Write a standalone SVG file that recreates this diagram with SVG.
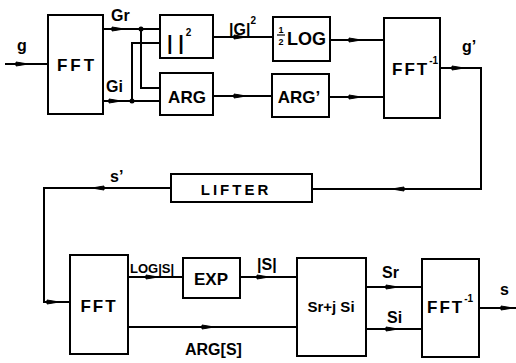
<svg xmlns="http://www.w3.org/2000/svg" width="516" height="363" viewBox="0 0 516 363">
<style>
.box{fill:#fff;stroke:#000;stroke-width:2}
.ln{fill:none;stroke:#000;stroke-width:2}
text{font-family:"Liberation Sans",Arial,sans-serif;font-weight:bold;fill:#000}
.big{font-size:17px;letter-spacing:3px}
.mid{font-size:16px}
.sm{font-size:13px}
.sup{font-size:10px}
</style>
<defs>
<path id="ar" d="M-6,-2 L6,0 L-6,2 Z" fill="#000" stroke="#000" stroke-width="1"/>
</defs>
<g id="connectors">
<path class="ln" d="M5,64 H48"/>
<path class="ln" d="M103,29 H160"/>
<path class="ln" d="M103,101 H160"/>
<path class="ln" d="M141,29 V88 H160"/>
<path class="ln" d="M132,101 V43 H160"/>
<path class="ln" d="M213,37 H273"/>
<path class="ln" d="M213,96 H272"/>
<path class="ln" d="M330,40 H384"/>
<path class="ln" d="M329,97 H384"/>
<path class="ln" d="M440,68 H481 V189 H312"/>
<path class="ln" d="M171,188 H44 V302 H70"/>
<path class="ln" d="M128,277 H183"/>
<path class="ln" d="M240,277 H297"/>
<path class="ln" d="M128,327 H297"/>
<path class="ln" d="M366,287 H422"/>
<path class="ln" d="M366,329 H422"/>
<path class="ln" d="M479,308 H516"/>
<circle cx="141" cy="29" r="2.5"/>
<circle cx="132" cy="101" r="2.5"/>
<use href="#ar" transform="translate(22,64)"/>
<use href="#ar" transform="translate(118,29)"/>
<use href="#ar" transform="translate(115,101)"/>
<use href="#ar" transform="translate(240,37)"/>
<use href="#ar" transform="translate(240,96)"/>
<use href="#ar" transform="translate(355,40)"/>
<use href="#ar" transform="translate(355,97)"/>
<use href="#ar" transform="translate(458,68)"/>
<use href="#ar" transform="translate(398,189) rotate(180)"/>
<use href="#ar" transform="translate(98,188) rotate(180)"/>
<use href="#ar" transform="translate(53,302)"/>
<use href="#ar" transform="translate(152,277)"/>
<use href="#ar" transform="translate(263,277)"/>
<use href="#ar" transform="translate(208,327)"/>
<use href="#ar" transform="translate(392,287)"/>
<use href="#ar" transform="translate(392,329)"/>
<use href="#ar" transform="translate(507,308)"/>
<text class="mid" x="22" y="51" text-anchor="middle">g</text>
<text class="mid" x="111" y="21">Gr</text>
<text class="mid" x="106" y="92">Gi</text>
<text class="mid" x="229" y="35">|G|<tspan class="sup" dy="-11">2</tspan></text>
<text class="mid" x="462" y="52">g’</text>
<text class="mid" x="110" y="182">s’</text>
<text class="sm" x="130" y="273">LOG|S|</text>
<text class="mid" x="257" y="270">|S|</text>
<text class="mid" x="185" y="355">ARG[S]</text>
<text class="mid" x="382" y="278">Sr</text>
<text class="mid" x="387" y="323">Si</text>
<text class="mid" x="500" y="295">s</text>
</g>
<g id="fft1">
<rect class="box" x="48" y="15" width="55" height="99"/>
<text class="big" x="77" y="71" text-anchor="middle">FFT</text>
</g>
<g id="abs2">
<rect class="box" x="160" y="15" width="53" height="43"/>
<text x="167" y="50" style="font-size:20px">| |<tspan class="sup" dy="-14" dx="2">2</tspan></text>
</g>
<g id="arg1">
<rect class="box" x="160" y="73" width="53" height="42"/>
<text x="187" y="103" text-anchor="middle" style="font-size:17px">ARG</text>
</g>
<g id="log">
<rect class="box" x="273" y="17" width="57" height="44"/>
<text x="281" y="33" font-size="9" text-anchor="middle">1</text>
<path d="M277,35 H285" stroke="#000" stroke-width="1.2"/>
<text x="281" y="45" font-size="9" text-anchor="middle">2</text>
<text x="287" y="45" font-size="18">LOG</text>
</g>
<g id="argp">
<rect class="box" x="272" y="74" width="57" height="43"/>
<text x="299" y="103" font-size="17" text-anchor="middle">ARG’</text>
</g>
<g id="ifft1">
<rect class="box" x="384" y="18" width="56" height="100"/>
<text x="392" y="75" style="font-size:17px;letter-spacing:2px">FFT<tspan class="sup" dy="-11" style="letter-spacing:0">-1</tspan></text>
</g>
<g id="lifter">
<rect class="box" x="171" y="174" width="141" height="28"/>
<text x="236" y="195" font-size="15" letter-spacing="3" text-anchor="middle">LIFTER</text>
</g>
<g id="fft2">
<rect class="box" x="70" y="255" width="58" height="99"/>
<text x="99" y="312" text-anchor="middle" style="font-size:17px;letter-spacing:2px">FFT</text>
</g>
<g id="exp">
<rect class="box" x="183" y="258" width="57" height="40"/>
<text x="211" y="285" font-size="17" text-anchor="middle">EXP</text>
</g>
<g id="comb">
<rect class="box" x="297" y="258" width="69" height="98"/>
<text x="331" y="312" font-size="15" text-anchor="middle">Sr+j Si</text>
</g>
<g id="ifft2">
<rect class="box" x="422" y="259" width="57" height="98"/>
<text x="427" y="313" style="font-size:17px;letter-spacing:2px">FFT<tspan class="sup" dy="-11" style="letter-spacing:0">-1</tspan></text>
</g>
</svg>
